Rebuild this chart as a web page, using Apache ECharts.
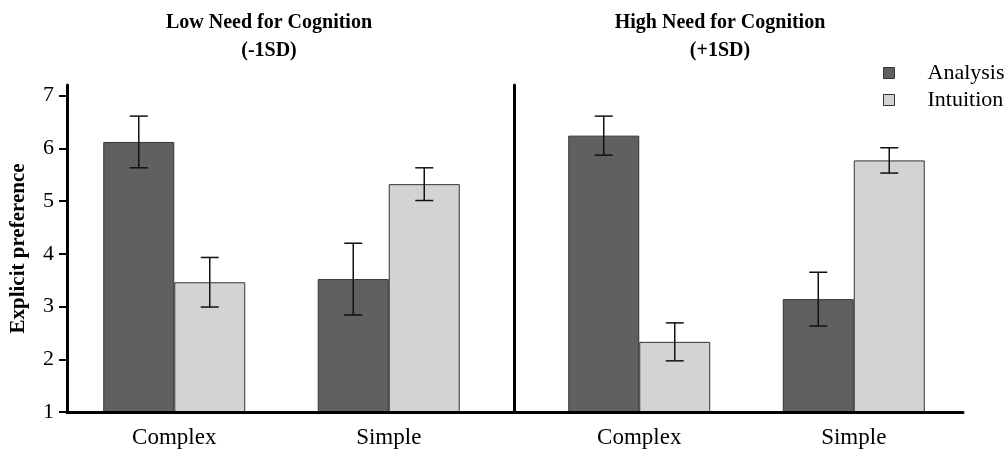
<!DOCTYPE html>
<html>
<head>
<meta charset="utf-8">
<script src="https://cdn.jsdelivr.net/npm/echarts@6/dist/echarts.min.js"></script>
<style>html,body{margin:0;padding:0;background:#fff}#c{width:1007px;height:453px}</style>
</head>
<body>
<div id="c"></div>
<script>
// ---- data ----
const categories = ['Complex', 'Simple'];
const panelTitles = ['Low Need for Cognition\n(-1SD)', 'High Need for Cognition\n(+1SD)'];
const seriesNames = ['Analysis', 'Intuition'];
const yTicks = [1, 2, 3, 4, 5, 6, 7];
const yAxisTitle = 'Explicit preference';

const analysisLow = [6.12, 3.52];
const analysisLowErr = [0.49, 0.68];
const intuitionLow = [3.46, 5.32];
const intuitionLowErr = [0.47, 0.31];

const analysisHigh = [6.24, 3.14];
const analysisHighErr = [0.37, 0.51];
const intuitionHigh = [2.33, 5.77];
const intuitionHighErr = [0.36, 0.24];

// ---- styles ----
const FONT = 'Liberation Serif';
const COLORS = ['#606060', '#d3d3d3'];
const BAR_FRAC = 0.331;
const Y_MIN = 1, Y_MAX = 7.2;

function errRenderer(side) {
  return function (params, api) {
    const x = api.value(0), y = api.value(1), e = api.value(2);
    const band = api.size([1, 0])[0];
    const c = api.coord([x, y]);
    const cx = c[0] + side * band * BAR_FRAC / 2;
    const top = api.coord([x, y + e])[1];
    const bot = api.coord([x, y - e])[1];
    const hw = 9;
    const st = { stroke: '#111', lineWidth: 1.5 };
    return {
      type: 'group',
      children: [
        { type: 'line', shape: { x1: cx, y1: top, x2: cx, y2: bot }, style: st },
        { type: 'line', shape: { x1: cx - hw, y1: top, x2: cx + hw, y2: top }, style: st },
        { type: 'line', shape: { x1: cx - hw, y1: bot, x2: cx + hw, y2: bot }, style: st }
      ]
    };
  };
}

function barSeries(name, data, idx, colorIdx) {
  return {
    name: name, type: 'bar', xAxisIndex: idx, yAxisIndex: idx,
    data: data, barWidth: (BAR_FRAC * 100) + '%', barGap: '0%',
    itemStyle: { color: COLORS[colorIdx], borderColor: '#333', borderWidth: 1 },
    z: 2
  };
}
function errSeries(name, vals, errs, idx, side) {
  return {
    name: name, type: 'custom', xAxisIndex: idx, yAxisIndex: idx,
    data: categories.map((c, i) => [i, vals[i], errs[i]]),
    encode: { x: 0, y: 1 },
    renderItem: errRenderer(side), z: 5, silent: true
  };
}

const catLabel = { fontFamily: FONT, fontSize: 23, color: '#000', margin: 14 };
const titleStyle = { fontFamily: FONT, fontWeight: 'bold', fontSize: 20, lineHeight: 28, fill: '#000', align: 'center' };

const option = {
  backgroundColor: '#fff',
  animation: false,
  graphic: [
    { type: 'text', x: 269, y: 9, style: Object.assign({ text: panelTitles[0] }, titleStyle) },
    { type: 'text', x: 720, y: 9, style: Object.assign({ text: panelTitles[1] }, titleStyle) }
  ],
  legend: {
    data: seriesNames, orient: 'vertical', left: 883, top: 62, padding: 0,
    icon: 'rect', itemWidth: 11, itemHeight: 11, itemGap: 5,
    itemStyle: { borderColor: '#333', borderWidth: 1 },
    textStyle: { fontFamily: FONT, fontSize: 22, lineHeight: 21, color: '#000', padding: [0, 0, 0, 28] }
  },
  grid: [
    { left: 67, top: 85, width: 429, bottom: 41 },
    { left: 532, top: 85, width: 429, bottom: 41 },
    { left: 67, top: 85, width: 896, bottom: 41 }
  ],
  xAxis: [
    { type: 'category', gridIndex: 0, data: categories, axisLine: { show: false }, axisTick: { show: false }, axisLabel: catLabel },
    { type: 'category', gridIndex: 1, data: categories, axisLine: { show: false }, axisTick: { show: false }, axisLabel: catLabel },
    { type: 'value', gridIndex: 2, min: 0, max: 1, z: 10,
      axisLine: { show: true, lineStyle: { color: '#000', width: 3 } },
      axisTick: { show: false }, axisLabel: { show: false }, splitLine: { show: false } }
  ],
  yAxis: [
    { type: 'value', gridIndex: 0, min: Y_MIN, max: Y_MAX, show: false },
    { type: 'value', gridIndex: 1, min: Y_MIN, max: Y_MAX, offset: 18, z: 10,
      axisLine: { show: true, lineStyle: { color: '#000', width: 3 } },
      axisTick: { show: false }, axisLabel: { show: false }, splitLine: { show: false } },
    { type: 'value', gridIndex: 2, min: Y_MIN, max: Y_MAX, interval: 1, z: 10,
      name: yAxisTitle, nameLocation: 'middle', nameGap: 38,
      nameTextStyle: { fontFamily: FONT, fontWeight: 'bold', fontSize: 21, color: '#000' },
      axisLine: { show: true, lineStyle: { color: '#000', width: 3 } },
      axisTick: { show: true, length: 8, lineStyle: { color: '#000', width: 2 }, customValues: yTicks },
      axisLabel: { fontFamily: FONT, fontSize: 22, color: '#000', margin: 13, customValues: yTicks },
      splitLine: { show: false } }
  ],
  series: [
    barSeries(seriesNames[0], analysisLow, 0, 0),
    barSeries(seriesNames[1], intuitionLow, 0, 1),
    barSeries(seriesNames[0], analysisHigh, 1, 0),
    barSeries(seriesNames[1], intuitionHigh, 1, 1),
    errSeries(seriesNames[0], analysisLow, analysisLowErr, 0, -1),
    errSeries(seriesNames[1], intuitionLow, intuitionLowErr, 0, 1),
    errSeries(seriesNames[0], analysisHigh, analysisHighErr, 1, -1),
    errSeries(seriesNames[1], intuitionHigh, intuitionHighErr, 1, 1)
  ]
};

const chart = echarts.init(document.getElementById('c'), null, { renderer: 'canvas' });
chart.setOption(option);
</script>
</body>
</html>
